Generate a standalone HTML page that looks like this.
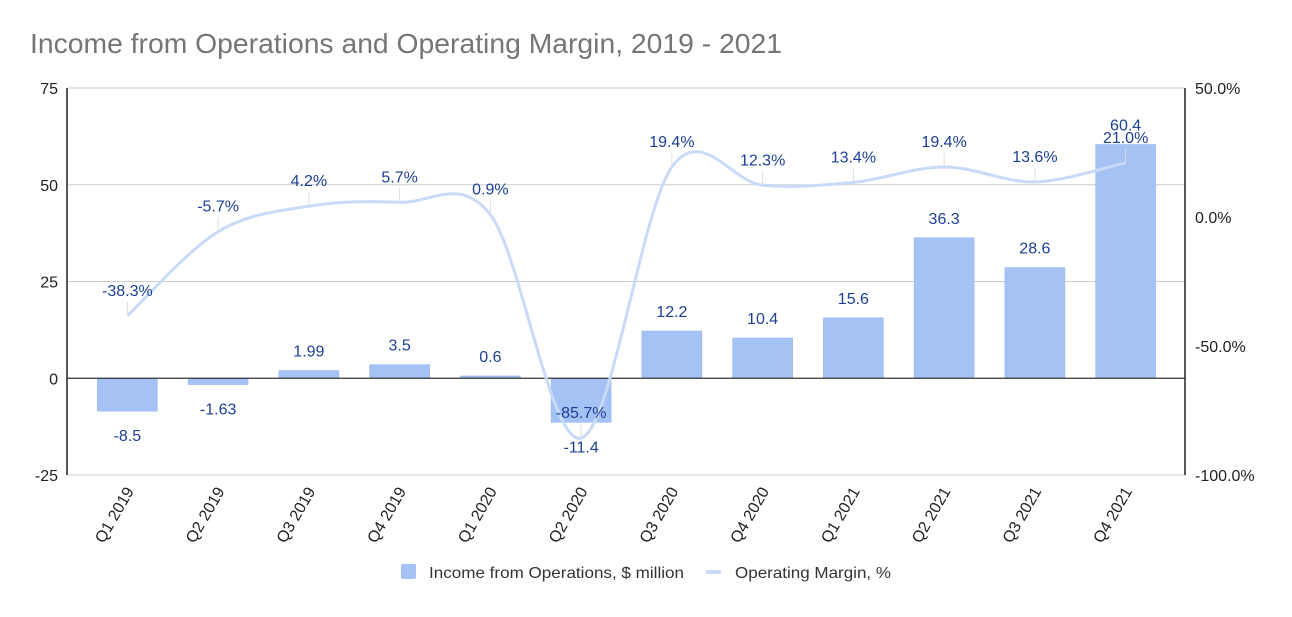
<!DOCTYPE html>
<html><head><meta charset="utf-8"><style>
body{margin:0;background:#fff;font-family:"Liberation Sans",Arial,sans-serif}
svg text{font-family:"Liberation Sans",Arial,sans-serif}
</style></head><body>
<svg id="chart" width="1292" height="612" viewBox="0 0 1292 612" xmlns="http://www.w3.org/2000/svg">
<text x="30" y="53" font-size="28" fill="#757575" textLength="752" lengthAdjust="spacingAndGlyphs">Income from Operations and Operating Margin, 2019 - 2021</text>
<g id="grid"></g>
<g id="bars"></g>
<g id="zero"></g>
<g id="line"></g>
<g id="labels"></g>
<g id="axes"></g>
<g>
<rect x="401" y="564" width="15" height="15" rx="2" fill="#a4c2f4"/>
<text x="429" y="578" font-size="16" fill="#333" textLength="255" lengthAdjust="spacingAndGlyphs">Income from Operations, $ million</text>
<rect x="706" y="570" width="15" height="4" fill="#c9daf8"/>
<text x="735" y="578" font-size="16" fill="#333" textLength="156" lengthAdjust="spacingAndGlyphs">Operating Margin, %</text>
</g>
</svg>
<script>
const categories=["Q1 2019","Q2 2019","Q3 2019","Q4 2019","Q1 2020","Q2 2020","Q3 2020","Q4 2020","Q1 2021","Q2 2021","Q3 2021","Q4 2021"];
const income=[-8.5,-1.63,1.99,3.5,0.6,-11.4,12.2,10.4,15.6,36.3,28.6,60.4];
const margin=[-38.3,-5.7,4.2,5.7,0.9,-85.7,19.4,12.3,13.4,19.4,13.6,21.0];
const leftTicks=[75,50,25,0,-25];
const rightTicks=[50,0,-50,-100];

const NS="http://www.w3.org/2000/svg";
const L=67,R=1185,BL=82,BR=1171,TOP=88,BOT=475;
const yL=v=>TOP+(75-v)/100*(BOT-TOP);
const yR=v=>TOP+(50-v)/150*(BOT-TOP);
const bw=(BR-BL)/categories.length;
const xc=i=>BL+bw*(i+0.5);
function mk(tag,attrs,parent,text){const e=document.createElementNS(NS,tag);for(const k in attrs)e.setAttribute(k,attrs[k]);if(text!==undefined)e.textContent=text;parent.appendChild(e);return e;}
const g=id=>document.getElementById(id);

leftTicks.forEach(t=>{
  if(t!==0){const ln=mk('line',{x1:L,x2:R,y1:yL(t),y2:yL(t),stroke:'#ccc','stroke-width':1},g('grid'));
  
  }
  const tx=mk('text',{x:58,y:yL(t)+6,'text-anchor':'end','font-size':16,fill:'#222'},g('axes'),String(t));
  
  
});
rightTicks.forEach(t=>{
  const tx=mk('text',{x:1195,y:yR(t)+6,'font-size':16,fill:'#222'},g('axes'),t.toFixed(1)+'%');
  
  
});
let ax=mk('line',{x1:L,x2:L,y1:TOP,y2:BOT,stroke:'#222','stroke-width':1.5},g('axes'));


ax=mk('line',{x1:R,x2:R,y1:TOP,y2:BOT,stroke:'#222','stroke-width':1.5},g('axes'));


let z=mk('line',{x1:L,x2:R,y1:yL(0),y2:yL(0),stroke:'#333','stroke-width':1.3},g('zero'));



categories.forEach((c,i)=>{
  const v=income[i],y0=yL(0),y1=yL(v);
  const b=mk('rect',{x:xc(i)-30,y:Math.min(y0,y1),width:60,height:Math.max(1,Math.abs(y1-y0)),fill:'#a4c2f4',stroke:'#8fb2ef','stroke-width':0.5},g('bars'));
  
  
  const ly=v>=0?y1-14:y1+30;
  const bl=mk('text',{x:xc(i),y:ly,'text-anchor':'middle','font-size':16,fill:'#1c3f94'},g('labels'),String(v));
  
  
  const tl=mk('text',{'text-anchor':'end','font-size':16,fill:'#222',transform:`translate(${xc(i)+7},${491}) rotate(-60)`},g('axes'),c);
  
  
});

const pts=margin.map((m,i)=>[xc(i),yR(m)]);
let d=`M${pts[0][0]},${pts[0][1]}`;
for(let i=0;i<pts.length-1;i++){
  const p0=pts[Math.max(0,i-1)],p1=pts[i],p2=pts[i+1],p3=pts[Math.min(pts.length-1,i+2)];
  const c1=[p1[0]+(p2[0]-p0[0])/6,p1[1]+(p2[1]-p0[1])/6];
  const c2=[p2[0]-(p3[0]-p1[0])/6,p2[1]-(p3[1]-p1[1])/6];
  d+=` C${c1[0]},${c1[1]} ${c2[0]},${c2[1]} ${p2[0]},${p2[1]}`;
}
const path=mk('path',{d:d,fill:'none',stroke:'#c9daf8','stroke-width':3},g('line'));


margin.forEach((m,i)=>{
  const [x,y]=pts[i];
  const t=mk('line',{x1:x,x2:x,y1:y-14,y2:y,stroke:'#ddd','stroke-width':1},g('labels'));
  
  
  const lb=mk('text',{x:x,y:y-20,'text-anchor':'middle','font-size':16,fill:'#1c3f94'},g('labels'),m.toFixed(1)+'%');
  
  
});
</script>
</body></html>
